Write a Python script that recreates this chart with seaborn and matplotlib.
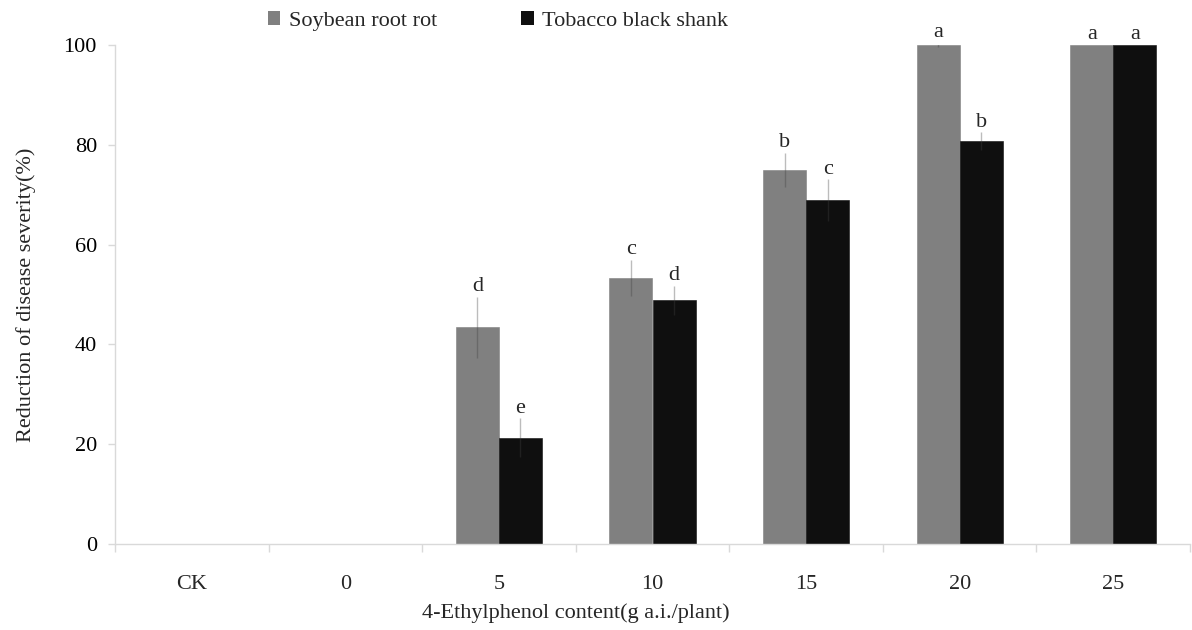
import numpy as np
import pandas as pd
import matplotlib
matplotlib.use("Agg")
import matplotlib.pyplot as plt
from matplotlib.patches import Patch
import seaborn as sns

# data
doses = ["CK", "0", "5", "10", "15", "20", "25"]
soybean = [0, 0, 43.4, 53.3, 75.0, 100.0, 100.0]
tobacco = [0, 0, 21.3, 48.8, 68.9, 80.7, 100.0]
soybean_sd = [np.nan, np.nan, 6.1, 3.7, 3.4, 0.4, 0.0]
tobacco_sd = [np.nan, np.nan, 3.9, 2.9, 4.2, 1.8, 0.0]
soybean_sig = ["", "", "d", "c", "b", "a", "a"]
tobacco_sig = ["", "", "e", "d", "c", "b", "a"]
series = ["Soybean root rot", "Tobacco black shank"]

df = pd.DataFrame({
    "dose": doses * 2,
    "value": soybean + tobacco,
    "disease": [series[0]] * len(doses) + [series[1]] * len(doses),
})

sns.set_theme(style="white")
plt.rcParams["font.family"] = ["Liberation Serif", "DejaVu Serif"]

colors = ["#808080", "#0f0f0f"]
FS = 16

fig = plt.figure(figsize=(11.92, 6.30), dpi=100)
ax = fig.add_axes([115 / 1192, 1 - 544 / 630, (1190 - 115) / 1192, (544 - 45) / 630])

sns.barplot(data=df, x="dose", y="value", hue="disease", order=doses,
            hue_order=series, palette=colors, width=0.56, errorbar=None,
            saturation=1, linewidth=0, ax=ax)

# error bars + significance letters
for cont, sds, sigs in zip(ax.containers, [soybean_sd, tobacco_sd],
                           [soybean_sig, tobacco_sig]):
    for bar, sd, sig in zip(cont, sds, sigs):
        bar.set_edgecolor(bar.get_facecolor())
        bar.set_linewidth(0.4)
        if np.isnan(sd):
            continue
        xc = bar.get_x() + bar.get_width() / 2
        h = bar.get_height()
        ax.errorbar(xc, h, yerr=sd, fmt="none", ecolor="#404040", alpha=0.35,
                    elinewidth=1, capsize=0, zorder=3)
        ax.annotate(sig, (xc, min(h + sd, 100.4)), xytext=(0, 4),
                    textcoords="offset points", ha="center", va="baseline",
                    fontsize=FS, annotation_clip=False)

ax.set_ylim(0, 100)
ax.set_xlim(-0.5, len(doses) - 0.5)
ax.set_yticks([0, 20, 40, 60, 80, 100])
ax.tick_params(axis="y", labelsize=FS, length=5, width=1, left=True, pad=8,
               colors="#d9d9d9", labelcolor="black")
ax.tick_params(axis="x", labelsize=FS, length=0, pad=22)
ax.set_xticks(np.arange(-0.5, len(doses)), minor=True)
ax.tick_params(axis="x", which="minor", length=6, color="#d9d9d9", bottom=True)

for side in ["top", "right"]:
    ax.spines[side].set_visible(False)
for side in ["left", "bottom"]:
    ax.spines[side].set_color("#d9d9d9")
    ax.spines[side].set_linewidth(1)

ax.set_xlabel("")
ax.set_ylabel("Reduction of disease severity(%)", fontsize=FS, labelpad=20)
fig.text(576 / 1192, 1 - 613 / 630, "4-Ethylphenol content(g a.i./plant)",
         ha="center", va="center", fontsize=FS)

ax.get_legend().remove()
handles = [Patch(facecolor=c, edgecolor="none") for c in colors]
fig.legend(handles, series, loc="center", bbox_to_anchor=(498 / 1192, 1 - 21 / 630),
           ncol=2, frameon=False, fontsize=FS, handlelength=0.55, handleheight=0.55,
           handletextpad=0.4, columnspacing=3.8)

fig.savefig("out.png", dpi=100)
